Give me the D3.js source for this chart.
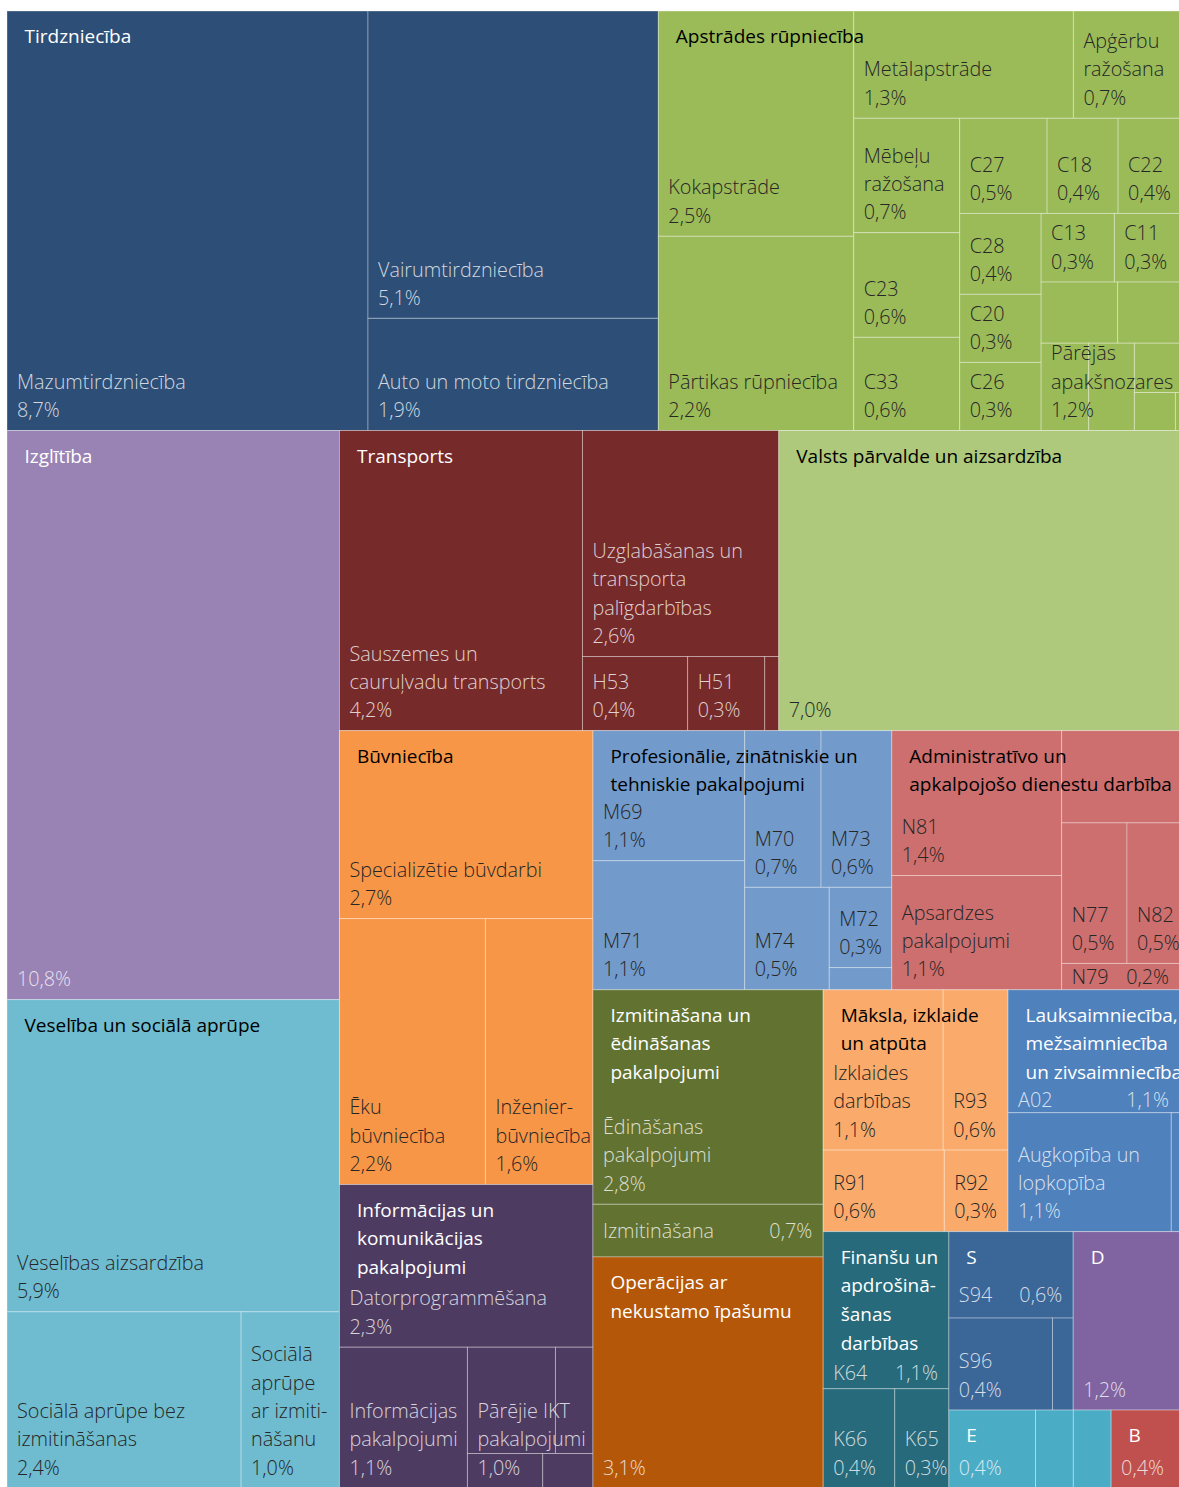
<!DOCTYPE html>
<html><head><meta charset="utf-8">
<script src="https://cdn.jsdelivr.net/npm/d3@7"></script>
<style>
html,body{margin:0;padding:0;background:#fff;}
svg{display:block;}
text{font-family:"Open Sans","Noto Sans",sans-serif;}
</style></head><body>
<svg id="chart" width="1179" height="1487"></svg>
<script>
// ---------------- DATA ----------------
// Each entry: [label (line breaks as written), printed share %, relative cell area]
// A third element that is an array means a sub-group of further cells.
const sectorCodes = ["G","C","P","Q","H","O","F","J","M","N","I","L","R","A","K","S","D","E","B"];
const sectorTitles = [
  "Tirdzniecība", "Apstrādes rūpniecība", "Izglītība", "Veselība un sociālā aprūpe",
  "Transports", "Valsts pārvalde un aizsardzība", "Būvniecība",
  "Informācijas un\nkomunikācijas\npakalpojumi",
  "Profesionālie, zinātniskie un\ntehniskie pakalpojumi",
  "Administratīvo un\napkalpojošo dienestu darbība",
  "Izmitināšana un\nēdināšanas\npakalpojumi",
  "Operācijas ar\nnekustamo īpašumu",
  "Māksla, izklaide\nun atpūta",
  "Lauksaimniecība,\nmežsaimniecība\nun zivsaimniecība",
  "Finanšu un\napdrošinā-\nšanas\ndarbības",
  "S", "D", "E", "B"
];

const parejasApaksnozares = [["",null,0.27],["",null,0.22],["",null,0.24],["",null,0.23],["",null,0.13],["",null,0.09],["",null,0.01]];
const parejieIKT = [["",null,0.54],["",null,0.23],["",null,0.15],["",null,0.10]];

const tirdzniecība = [["Mazumtirdzniecība",8.7,8.74],["Vairumtirdzniecība",5.1,5.15],["Auto un moto tirdzniecība",1.9,1.88]];
const apstrāde = [["Kokapstrāde",2.5,2.54],["Pārtikas rūpniecība",2.2,2.19],["Metālapstrāde",1.3,1.36],["Apģērbu\nražošana",0.7,0.66],
  ["Mēbeļu\nražošana",0.7,0.70],["C23",0.6,0.64],["C33",0.6,0.57],["C27",0.5,0.48],["C18",0.4,0.39],["C22",0.4,0.34],
  ["C28",0.4,0.38],["C20",0.3,0.32],["C26",0.3,0.32],["C13",0.3,0.29],["C11",0.3,0.26],["Pārējās\napakšnozares",1.2,parejasApaksnozares]];
const izglītība = [["",10.8,10.92]];
const veselība = [["Veselības aizsardzība",5.9,5.99],["Sociālā aprūpe bez\nizmitināšanas",2.4,2.38],["Sociālā\naprūpe\nar izmiti-\nnāšanu",1.0,1.00]];
const transports = [["Sauszemes un\ncauruļvadu transports",4.2,4.21],["Uzglabāšanas un\ntransporta\npalīgdarbības",2.6,2.56],["H53",0.4,0.45],["H51",0.3,0.33],["",null,0.06]];
const valstsPārvalde = [["",7.0,6.95]];
const būvniecība = [["Specializētie būvdarbi",2.7,2.75],["Ēku\nbūvniecība",2.2,2.24],["Inženier-\nbūvniecība",1.6,1.65]];
const ikt = [["Datorprogrammēšana",2.3,2.38],["Informācijas\npakalpojumi",1.1,1.04],["Pārējie IKT\npakalpojumi",1.0,parejieIKT]];
const profesionālie = [["M69",1.1,1.14],["M71",1.1,1.13],["M70",0.7,0.69],["M73",0.6,0.64],["M74",0.5,0.50],["M72",0.3,0.29],["",null,0.08]];
const administratīvie = [["N81",1.4,1.42],["Apsardzes\npakalpojumi",1.1,1.12],["",null,0.63],["N77",0.5,0.53],["N82",0.5,0.43],["N79",0.2,0.18]];
const izmitināšana = [["Ēdināšanas\npakalpojumi",2.8,2.85],["Izmitināšana",0.7,0.70]];
const nekustamais = [["",3.1,3.07]];
const māksla = [["Izklaides\ndarbības",1.1,1.11],["R93",0.6,0.60],["R91",0.6,0.57],["R92",0.3,0.30]];
const lauksaimniecība = [["A02",1.1,1.22],["Augkopība un\nlopkopība",1.1,1.12],["",null,0.06]];
const finanses = [["K64",1.1,1.14],["K66",0.4,0.41],["K65",0.3,0.31]];
const sektorsS = [["S94",0.6,0.62],["S96",0.4,0.55],["",null,0.11]];
const sektorsD = [["",1.2,1.10]];
const sektorsE = [["",0.4,0.39],["",null,0.17],["",null,0.17]];
const sektorsB = [["",0.4,0.31]];

const sectorLeaves = {G:tirdzniecība,C:apstrāde,P:izglītība,Q:veselība,H:transports,O:valstsPārvalde,F:būvniecība,J:ikt,
  M:profesionālie,N:administratīvie,I:izmitināšana,L:nekustamais,R:māksla,A:lauksaimniecība,K:finanses,S:sektorsS,D:sektorsD,E:sektorsE,B:sektorsB};

// ---------------- LAYOUT STRUCTURE (split order: h = side by side, v = stacked) ----------------
const topLayout = ["v", ["h","G","C"], ["h", ["v","P","Q"], ["v", ["h","H","O"], ["h", ["v","F","J"],
  ["v", ["h","M","N"], ["h", ["v","I","L"], ["v", ["h","R","A"], ["h","K", ["v", ["h","S","D"], ["h","E","B"]]]]]]]]]];
const sectorLayouts = {
  G: ["h",0,["v",1,2]],
  C: ["h",["v",0,1],["v",["h",2,3],["h",["v",4,5,6],["v",["h",7,8,9],["h",["v",10,11,12],["v",["h",13,14],15]]]]]],
  P: 0, Q: ["v",0,["h",1,2]], H: ["h",0,["v",1,["h",2,3,4]]], O: 0, F: ["v",0,["h",1,2]], J: ["v",0,["h",1,2]],
  M: ["h",["v",0,1],["v",["h",2,3],["h",4,["v",5,6]]]], N: ["h",["v",0,1],["v",2,["h",3,4],5]],
  I: ["v",0,1], L: 0, R: ["v",["h",0,1],["h",2,3]], A: ["v",0,["h",1,2]], K: ["v",0,["h",1,2]],
  S: ["v",0,["h",1,2]], D: 0, E: ["h",0,1,2], B: 0
};
const subgroupLayouts = new Map([
  [parejasApaksnozares, ["v",["h",0,1],["h",2,3,["v",4,["h",5,6]]]]],
  [parejieIKT, ["v",["h",0,1],["h",2,3]]]
]);

// ---------------- STYLE ----------------
const sectorColors = {G:"#2d4e76",C:"#9bbb59",P:"#9983b5",Q:"#6fbcd0",H:"#772a2a",O:"#aec97b",F:"#f79646",J:"#4e3b62",
  M:"#729aca",N:"#cc6f6e",I:"#627331",L:"#b45709",R:"#faab6b",A:"#4f81bd",K:"#276a7b",S:"#3b6698",D:"#8064a2",E:"#4bacc6",B:"#c0504d"};
const lightSectors = new Set(["C","Q","O","F","M","N","R"]);
const X0 = 7, Y0 = 11, TW = 1173, TH = 1477;
const TITLE_BASE = 32, TITLE_LH = 28.7, TITLE_X = 17.5, TITLE_FS = 19;
const LEAF_LH = 28.3, LEAF_PAD = 10, LEAF_BOTTOM = 13.5, LEAF_FS = 19.8;

// ---------------- BUILD ----------------
function buildLayout(spec, make) {
  if (!Array.isArray(spec)) return make(spec);
  const [dir, ...kids] = spec;
  return {kind:"box", dir, children: kids.map(k => buildLayout(k, make))};
}
function makeItem(entry) {
  const [name, share, w] = entry;
  if (Array.isArray(w)) {
    const body = buildLayout(subgroupLayouts.get(w), j => makeItem(w[j]));
    return {kind:"sub", name, share, dir:"h", children:[body]};
  }
  return {kind:"leaf", name, share, weight:w};
}
const rootData = buildLayout(topLayout, code => {
  const leaves = sectorLeaves[code];
  const body = buildLayout(sectorLayouts[code], j => makeItem(leaves[j]));
  return {kind:"sector", code, title: sectorTitles[sectorCodes.indexOf(code)], dir:"h", children:[body]};
});

const root = d3.hierarchy(rootData).sum(d => d.kind === "leaf" ? d.weight : 0);
d3.treemap()
  .size([TW, TH])
  .tile((node, x0, y0, x1, y1) => (node.data.dir === "v" ? d3.treemapSlice : d3.treemapDice)(node, x0, y0, x1, y1))
  (root);

const fmt = v => v.toFixed(1).replace(".", ",") + "%";
const sectorOf = n => n.ancestors().find(a => a.data.kind === "sector");

const svg = d3.select("#chart");
const g = svg.append("g").attr("transform", `translate(${X0},${Y0})`);
const sectors = root.descendants().filter(d => d.data.kind === "sector");

const defs = svg.append("defs");
sectors.forEach(s => {
  defs.append("clipPath").attr("id", "clip-" + s.data.code)
    .append("rect").attr("x", s.x0).attr("y", s.y0).attr("width", s.x1 - s.x0).attr("height", s.y1 - s.y0);
});

// cells
g.append("g").selectAll("rect").data(root.leaves()).join("rect")
  .attr("x", d => d.x0).attr("y", d => d.y0)
  .attr("width", d => d.x1 - d.x0).attr("height", d => d.y1 - d.y0)
  .attr("fill", d => sectorColors[sectorOf(d).data.code])
  .attr("stroke", "rgba(255,255,255,0.33)").attr("stroke-width", 1);

// cell labels
const labelled = root.descendants().filter(d => (d.data.kind === "leaf" || d.data.kind === "sub") && d.data.share != null);
const lg = g.append("g");
labelled.forEach(d => {
  const s = sectorOf(d);
  const code = s.data.code;
  const dark = lightSectors.has(code);
  const color = dark ? "#262626" : "rgba(255,255,255,0.78)";
  const lines = d.data.name ? d.data.name.split("\n") : [];
  const nTitle = s.data.title.split("\n").length;
  const underTitle = Math.abs(d.x0 - s.x0) < 0.5 && Math.abs(d.y0 - s.y0) < 0.5;
  const top = underTitle ? s.y0 + TITLE_BASE + (nTitle - 1) * TITLE_LH + 8 : d.y0;
  const avail = d.y1 - top;
  const needed = (lines.length + 1) * LEAF_LH + 4;
  const gg = lg.append("g").attr("clip-path", `url(#clip-${code})`)
    .attr("font-size", LEAF_FS).attr("font-weight", 300).attr("fill", color);
  if (avail >= needed || lines.length !== 1) {
    const all = lines.concat([fmt(d.data.share)]);
    const n = all.length;
    all.forEach((t, i) => {
      gg.append("text").attr("x", d.x0 + LEAF_PAD)
        .attr("y", d.y1 - LEAF_BOTTOM - (n - 1 - i) * LEAF_LH).text(t);
    });
  } else {
    const yb = (top + d.y1) / 2 + 7;
    gg.append("text").attr("x", d.x0 + LEAF_PAD).attr("y", yb).text(lines[0]);
    gg.append("text").attr("x", d.x1 - 11).attr("y", yb).attr("text-anchor", "end").text(fmt(d.data.share));
  }
});

// sector titles
const tg = g.append("g");
sectors.forEach(s => {
  const code = s.data.code;
  const gg = tg.append("g").attr("clip-path", `url(#clip-${code})`)
    .attr("font-size", TITLE_FS).attr("font-weight", 400)
    .attr("fill", lightSectors.has(code) ? "#000" : "#fff");
  s.data.title.split("\n").forEach((t, i) => {
    gg.append("text").attr("x", s.x0 + TITLE_X).attr("y", s.y0 + TITLE_BASE + i * TITLE_LH).text(t);
  });
});
</script></body></html>
